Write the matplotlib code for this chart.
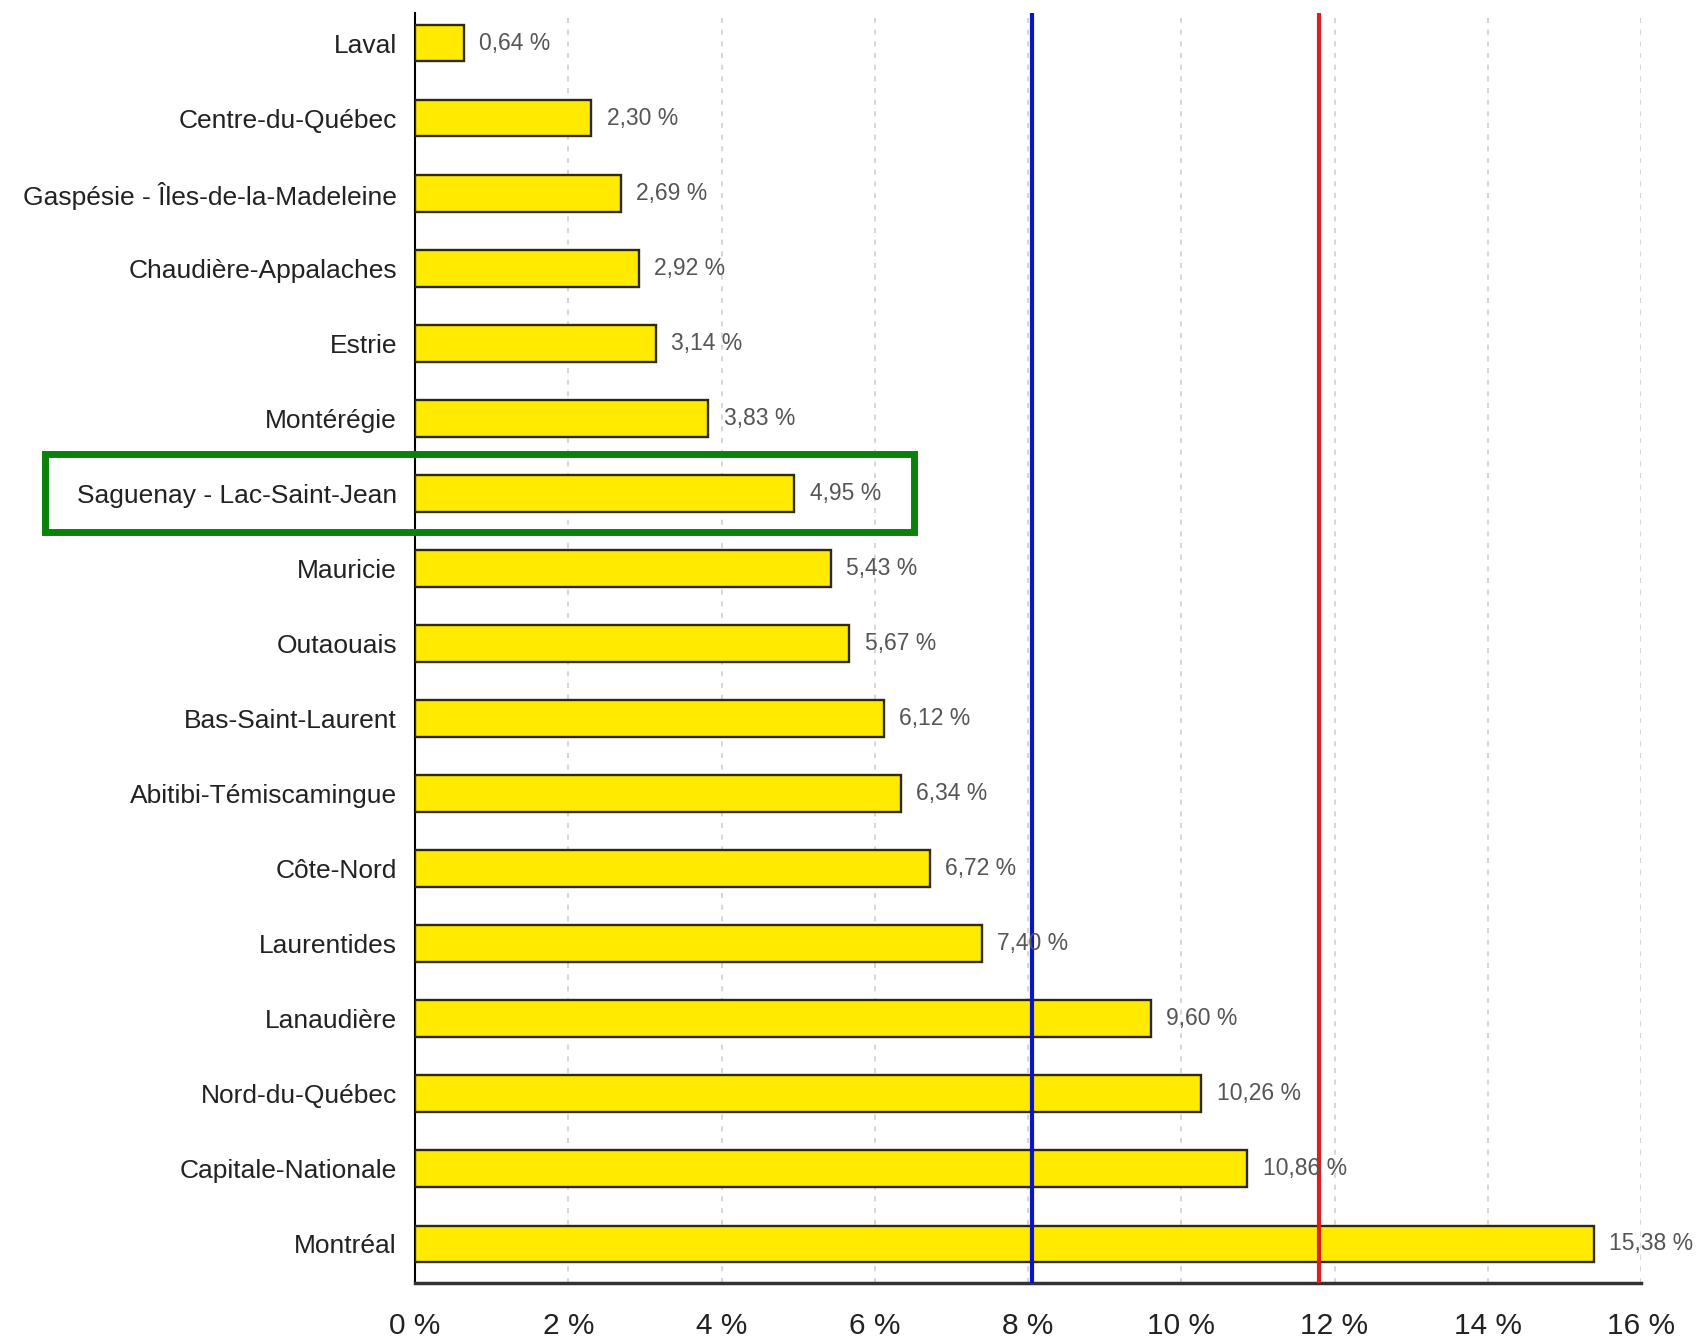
import matplotlib
matplotlib.use("Agg")
import matplotlib.pyplot as plt
from matplotlib.patches import Rectangle

regions = ["Laval", "Centre-du-Québec", "Gaspésie - Îles-de-la-Madeleine",
           "Chaudière-Appalaches", "Estrie", "Montérégie", "Saguenay - Lac-Saint-Jean",
           "Mauricie", "Outaouais", "Bas-Saint-Laurent", "Abitibi-Témiscamingue",
           "Côte-Nord", "Laurentides", "Lanaudière", "Nord-du-Québec",
           "Capitale-Nationale", "Montréal"]
values = [0.64, 2.30, 2.69, 2.92, 3.14, 3.83, 4.95, 5.43, 5.67, 6.12, 6.34,
          6.72, 7.40, 9.60, 10.26, 10.86, 15.38]
xticks = [0, 2, 4, 6, 8, 10, 12, 14, 16]
blue_ref = 8.05
red_ref = 11.8
highlight = "Saguenay - Lac-Saint-Jean"

FAM = ['Liberation Sans Narrow', 'Liberation Sans', 'DejaVu Sans']
plt.rcParams['font.family'] = FAM

fig = plt.figure(figsize=(16.96, 13.43), dpi=100)
ax = fig.add_axes([0.2447, 0.0447, 0.9676 - 0.2447, 0.9903 - 0.0447])

ypos = list(range(len(regions)))
ax.barh(ypos, values, height=0.49, color='#ffea00', edgecolor='#2e2a0a',
        linewidth=1.7, zorder=3)

for y, v in zip(ypos, values):
    ax.text(v + 0.2, y, f"{v:.2f}".replace('.', ',') + " %", va='center', ha='left',
            fontsize=16.5, color='#555555', zorder=6, clip_on=False)

ax.set_xlim(0, 16)
ax.set_ylim(16.52, -0.4)
ax.set_yticks(ypos)
ax.set_yticklabels(regions, fontsize=19, color='#222222')
ax.set_xticks(xticks)
ax.set_xticklabels([f"{t} %" for t in xticks], fontsize=21.5, color='#222222')
ax.tick_params(axis='y', length=0, pad=13)
ax.tick_params(axis='x', length=0, pad=21)

for t in xticks[1:]:
    ax.axvline(t, color='#d0d0d0', linestyle=(0, (3, 4)), linewidth=1.2, zorder=1)

ax.axvline(blue_ref, color='#0a14c8', linewidth=3, zorder=5)
ax.axvline(red_ref, color='#dc1e1e', linewidth=3, zorder=5)

for s in ['top', 'right']:
    ax.spines[s].set_visible(False)
ax.spines['left'].set_color('black')
ax.spines['left'].set_linewidth(1.5)
ax.spines['bottom'].set_color('#333333')
ax.spines['bottom'].set_linewidth(2.5)

hi = regions.index(highlight)
rect = Rectangle((-4.83, hi - 0.53), 4.83 + 6.51, 1.04, fill=False,
                 edgecolor='#0a820a', linewidth=5, clip_on=False, zorder=7)
ax.add_patch(rect)

fig.savefig("out.png", dpi=100)
